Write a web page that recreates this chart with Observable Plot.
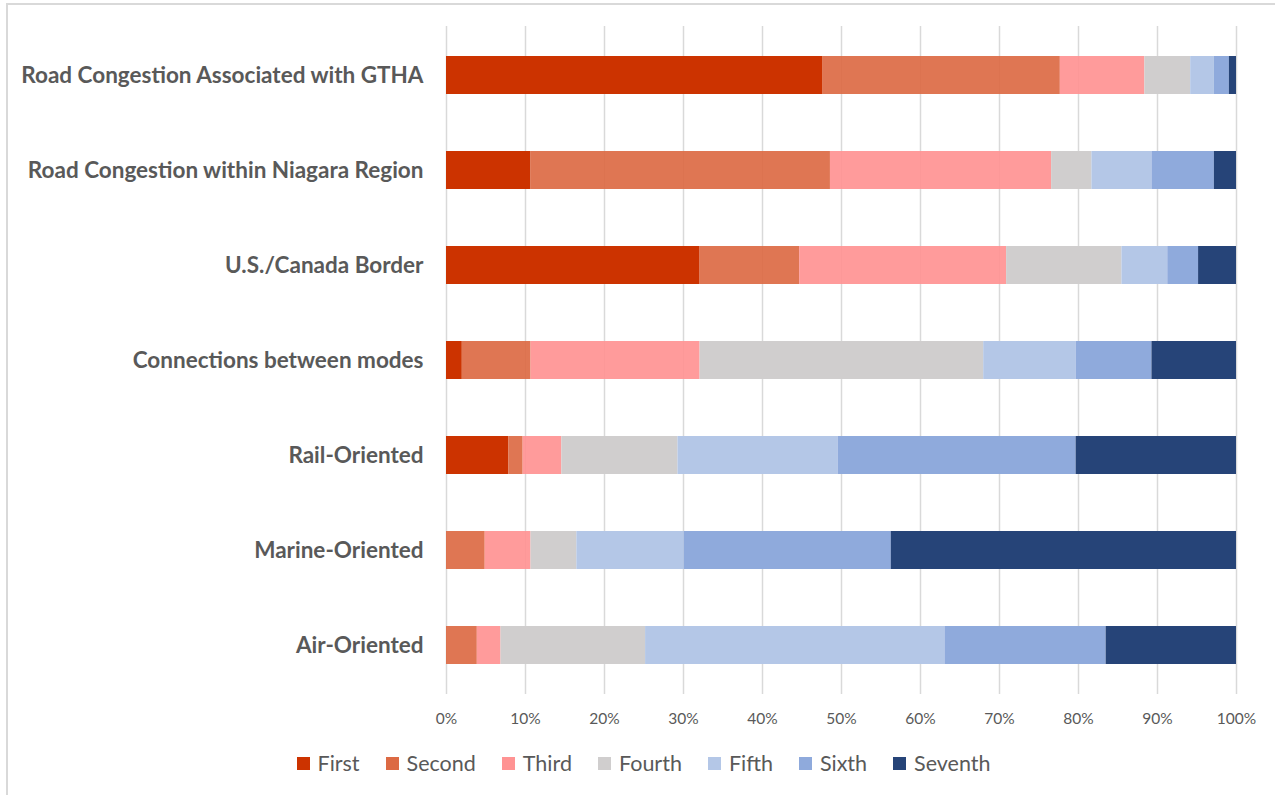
<!DOCTYPE html>
<html>
<head>
<meta charset="utf-8">
<script src="https://cdn.jsdelivr.net/npm/d3@7"></script>
<script src="https://cdn.jsdelivr.net/npm/@observablehq/plot@0.6"></script>
<style>
  html, body { margin: 0; padding: 0; background: #fff; }
  #wrap { position: relative; width: 1275px; height: 795px; overflow: hidden; font-family: Lato, "Open Sans", sans-serif; }
  #frame { position: absolute; left: 6px; top: 3px; width: 1300px; height: 900px; border-left: 2px solid #d9d9d9; border-top: 2px solid #d9d9d9; box-sizing: border-box; pointer-events: none; }
  #chart { position: absolute; left: 0; top: 0; }
  #legend { position: absolute; top: 750px; left: 0; width: 1287px; display: flex; justify-content: center; font-size: 21.5px; color: #595959; }
  .item { display: flex; align-items: center; margin: 0 13px; }
  .sw { width: 13px; height: 13px; margin-right: 8px; }
</style>
</head>
<body>
<div id="wrap">
  <div id="chart"></div>
  <div id="legend"></div>
  <div id="frame"></div>
</div>
<script>
const categories = [
  "Road Congestion Associated with GTHA",
  "Road Congestion within Niagara Region",
  "U.S./Canada Border",
  "Connections between modes",
  "Rail-Oriented",
  "Marine-Oriented",
  "Air-Oriented"
];
const ranks = ["First", "Second", "Third", "Fourth", "Fifth", "Sixth", "Seventh"];
const colors = ["#cc3300", "#dc6a44", "#ff9393", "#d0cece", "#b4c7e7", "#8faadc", "#264478"];
// percentage share per rank, one array per rank, in category order
const first   = [47.6, 10.7, 32.1,  2.0,  7.9,  0.0,  0.0];
const second  = [30.1, 37.9, 12.6,  8.7,  1.8,  4.9,  3.9];
const third   = [10.7, 28.0, 26.2, 21.4,  4.9,  5.8,  3.0];
const fourth  = [ 5.8,  5.1, 14.6, 35.9, 14.7,  5.8, 18.3];
const fifth   = [ 3.0,  7.6,  5.8, 11.7, 20.3, 13.6, 37.9];
const sixth   = [ 1.9,  7.9,  3.9,  9.6, 30.1, 26.2, 20.4];
const seventh = [ 0.9,  2.8,  4.8, 10.7, 20.3, 43.7, 16.5];
const xTicks = [0, 10, 20, 30, 40, 50, 60, 70, 80, 90, 100];

const series = [first, second, third, fourth, fifth, sixth, seventh];
const data = [];
categories.forEach((c, i) => {
  ranks.forEach((r, j) => data.push({ category: c, rank: r, value: series[j][i] }));
});

const plot = Plot.plot({
  width: 1275,
  height: 740,
  marginLeft: 446,
  marginRight: 39,
  marginTop: 26,
  marginBottom: 46,
  style: { fontFamily: "Lato, 'Open Sans', sans-serif", color: "#595959", background: "transparent" },
  x: { domain: [0, 100], label: null },
  y: { domain: categories, label: null, paddingInner: 0.6, paddingOuter: 0.3 },
  color: { domain: ranks, range: colors },
  marks: [
    Plot.ruleX(xTicks, { stroke: "#d9d9d9", strokeWidth: 1.5, strokeOpacity: 1 }),
    Plot.barX(data, Plot.stackX({ y: "category", x: "value", fill: "rank", order: ranks,
      fillOpacity: d => (d.rank === "Second" || d.rank === "Third") ? 0.92 : 1 })),
    Plot.axisX({ ticks: xTicks, tickFormat: d => d + "%", tickSize: 0, tickPadding: 18, fontSize: 15.5, fill: "#595959" }),
    Plot.axisY({ tickSize: 0, tickPadding: 23, fontSize: 22.5, fontWeight: "bold", fill: "#595959" })
  ]
});
document.getElementById("chart").appendChild(plot);

const legend = document.getElementById("legend");
ranks.forEach((r, j) => {
  const it = document.createElement("div");
  it.className = "item";
  const sw = document.createElement("span");
  sw.className = "sw";
  sw.style.background = colors[j];
  const t = document.createElement("span");
  t.textContent = r;
  it.appendChild(sw); it.appendChild(t);
  legend.appendChild(it);
});
</script>
</body>
</html>
